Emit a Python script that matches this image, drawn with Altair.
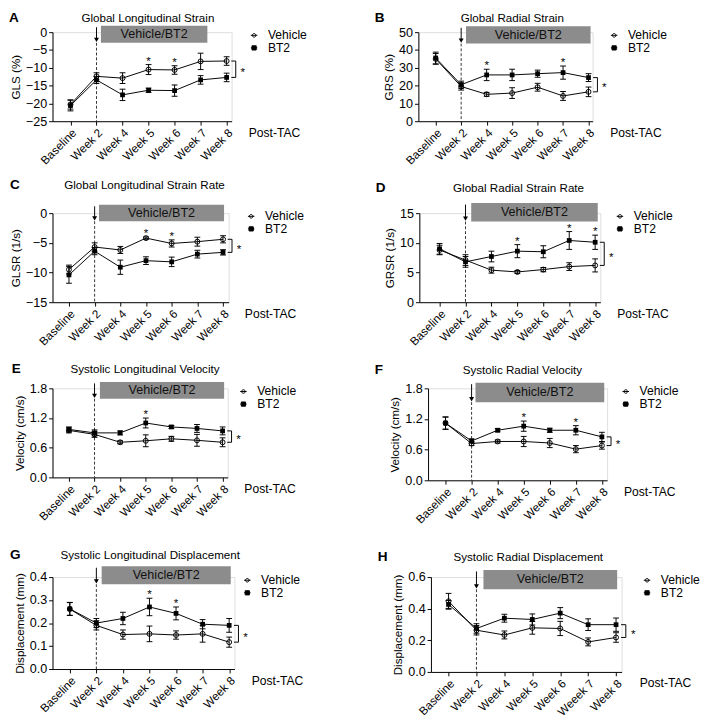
import altair as alt
import pandas as pd

FONT = "Liberation Sans"

weeks = ["Baseline", "Week 2", "Week 4", "Week 5", "Week 6", "Week 7", "Week 8"]
weeks_h = ["Baseline", "Week 2", "Week 4", "Week 5", "Week 6", "Weeek 7", "Week 8"]
series = ["Vehicle", "BT2"]

# A  Global Longitudinal Strain
gls_vehicle = [-20.3, -12.4, -12.9, -10.5, -10.6, -8.2, -8.1]
gls_vehicle_sem = [1.3, 1.0, 1.5, 1.4, 1.2, 2.3, 1.2]
gls_bt2 = [-20.6, -13.4, -17.6, -16.3, -16.4, -13.4, -12.7]
gls_bt2_sem = [1.5, 1.0, 1.6, 0.6, 1.6, 1.2, 1.2]
gls_stars = [3, 4]

# B  Global Radial Strain
grs_vehicle = [35.0, 19.5, 15.1, 15.8, 19.1, 14.2, 16.5]
grs_vehicle_sem = [3.0, 2.0, 1.1, 3.0, 2.2, 2.5, 2.7]
grs_bt2 = [35.5, 20.5, 26.0, 26.0, 26.7, 27.3, 24.5]
grs_bt2_sem = [3.3, 2.0, 3.2, 3.2, 2.0, 3.7, 2.2]
grs_stars = [2, 5]

# C  Global Longitudinal Strain Rate
glsr_vehicle = [-9.5, -5.7, -6.2, -4.2, -5.1, -4.8, -4.4]
glsr_vehicle_sem = [0.75, 0.7, 0.6, 0.2, 0.6, 0.75, 0.6]
glsr_bt2 = [-10.4, -6.4, -9.1, -8.0, -8.2, -6.9, -6.6]
glsr_bt2_sem = [1.4, 0.6, 1.2, 0.65, 0.8, 0.65, 0.45]
glsr_stars = [3, 4]

# D  Global Radial Strain Rate
grsr_vehicle = [8.8, 7.1, 5.4, 5.1, 5.5, 6.0, 6.2]
grsr_vehicle_sem = [0.8, 0.9, 0.5, 0.25, 0.35, 0.65, 1.1]
grsr_bt2 = [9.0, 6.8, 7.7, 8.6, 8.5, 10.4, 10.1]
grsr_bt2_sem = [0.9, 0.9, 0.9, 1.1, 1.0, 1.5, 1.2]
grsr_stars = [3, 5, 6]

# E  Systolic Longitudinal Velocity
slv_vehicle = [0.95, 0.87, 0.71, 0.74, 0.78, 0.75, 0.71]
slv_vehicle_sem = [0.05, 0.06, 0.03, 0.12, 0.05, 0.12, 0.09]
slv_bt2 = [0.97, 0.90, 0.90, 1.10, 1.02, 0.99, 0.94]
slv_bt2_sem = [0.05, 0.06, 0.04, 0.10, 0.03, 0.08, 0.08]
slv_stars = [3]

# F  Systolic Radial Velocity
srv_vehicle = [1.12, 0.72, 0.76, 0.76, 0.73, 0.61, 0.68]
srv_vehicle_sem = [0.12, 0.04, 0.03, 0.10, 0.09, 0.07, 0.07]
srv_bt2 = [1.12, 0.77, 0.98, 1.06, 0.98, 0.98, 0.85]
srv_bt2_sem = [0.12, 0.04, 0.03, 0.10, 0.04, 0.09, 0.09]
srv_stars = [3, 5]

# G  Systolic Longitudinal Displacement
sld_vehicle = [0.261, 0.19, 0.15, 0.153, 0.148, 0.153, 0.117]
sld_vehicle_sem = [0.028, 0.02, 0.02, 0.034, 0.018, 0.036, 0.022]
sld_bt2 = [0.262, 0.20, 0.22, 0.27, 0.242, 0.195, 0.19]
sld_bt2_sem = [0.028, 0.02, 0.027, 0.038, 0.028, 0.02, 0.03]
sld_stars = [3, 4]

# H  Systolic Radial Displacement
srd_vehicle = [0.447, 0.264, 0.234, 0.279, 0.275, 0.19, 0.218]
srd_vehicle_sem = [0.05, 0.03, 0.025, 0.04, 0.045, 0.025, 0.03]
srd_bt2 = [0.427, 0.275, 0.34, 0.332, 0.372, 0.299, 0.299]
srd_bt2_sem = [0.025, 0.03, 0.025, 0.035, 0.035, 0.037, 0.042]
srd_stars = []

# legend symbols: marker with a line through it
LEG_CIRCLE = "M-1,0L1,0M0.55,0A0.55,0.55,0,1,1,-0.55,0A0.55,0.55,0,1,1,0.55,0Z"
LEG_SQUARE = "M-1,0L1,0M-0.65,-0.65L0.65,-0.65L0.65,0.65L-0.65,0.65Z"

panels = {
    "A": dict(title="Global Longitudinal Strain", ylabel="GLS (%)", ylim=(-25, 0), yticks=[-25, -20, -15, -10, -5, 0], fmt="d",
              veh=gls_vehicle, veh_sem=gls_vehicle_sem, bt2=gls_bt2, bt2_sem=gls_bt2_sem, stars=gls_stars, labels=weeks,
              w=185, h=92, xlim=(-0.69, 6.19), box=(1.17, 5.26, -3.0, 1.8), letter=(-45, -15), title_x=6, legx=17),
    "B": dict(title="Global Radial Strain", ylabel="GRS (%)", ylim=(0, 50), yticks=[0, 10, 20, 30, 40, 50], fmt="d",
              veh=grs_vehicle, veh_sem=grs_vehicle_sem, bt2=grs_bt2, bt2_sem=grs_bt2_sem, stars=grs_stars, labels=weeks,
              w=180, h=92, xlim=(-0.68, 6.16), box=(1.19, 6.08, 43.6, 53.3), letter=(-45, -15), title_x=7, legx=16),
    "C": dict(title="Global Longitudinal Strain Rate", ylabel="GLSR (1/s)", ylim=(-15, 0), yticks=[-15, -10, -5, 0], fmt="d",
              veh=glsr_vehicle, veh_sem=glsr_vehicle_sem, bt2=glsr_bt2, bt2_sem=glsr_bt2_sem, stars=glsr_stars, labels=weeks,
              w=182, h=92, xlim=(-0.64, 6.22), box=(1.17, 6.04, -1.35, 1.4), letter=(-44, -29), title_x=4, legx=17),
    "D": dict(title="Global Radial Strain Rate", ylabel="GRSR (1/s)", ylim=(0, 15), yticks=[0, 5, 10, 15], fmt="d",
              veh=grsr_vehicle, veh_sem=grsr_vehicle_sem, bt2=grsr_bt2, bt2_sem=grsr_bt2_sem, stars=grsr_stars, labels=weeks,
              w=187, h=92, xlim=(-0.78, 6.2), box=(1.22, 6.1, 13.6, 16.7), letter=(-45, -26), title_x=9, legx=14),
    "E": dict(title="Systolic Longitudinal Velocity", ylabel="Velocity (cm/s)", ylim=(0, 1.8), yticks=[0, 0.6, 1.2, 1.8], fmt=".1f",
              veh=slv_vehicle, veh_sem=slv_vehicle_sem, bt2=slv_bt2, bt2_sem=slv_bt2_sem, stars=slv_stars, labels=weeks,
              w=181, h=92, xlim=(-0.64, 6.2), box=(1.21, 6.06, 1.59, 1.93), letter=(-42, -20), title_x=5, legx=10),
    "F": dict(title="Systolic Radial Velocity", ylabel="Velocity (cm/s)", ylim=(0, 1.8), yticks=[0, 0.6, 1.2, 1.8], fmt=".1f",
              veh=srv_vehicle, veh_sem=srv_vehicle_sem, bt2=srv_bt2, bt2_sem=srv_bt2_sem, stars=srv_stars, labels=weeks,
              w=185, h=95, xlim=(-0.67, 6.2), box=(1.15, 6.09, 1.53, 1.91), letter=(-55, -19), title_x=5, legx=13),
    "G": dict(title="Systolic Longitudinal Displacement", ylabel="Displacement (mm)", ylim=(0, 0.4), yticks=[0, 0.1, 0.2, 0.3, 0.4], fmt=".1f",
              veh=sld_vehicle, veh_sem=sld_vehicle_sem, bt2=sld_bt2, bt2_sem=sld_bt2_sem, stars=sld_stars, labels=weeks,
              w=188, h=95, xlim=(-0.65, 6.2), box=(1.2, 6.06, 0.369, 0.447), letter=(-44, -23), title_x=7, legx=7),
    "H": dict(title="Systolic Radial Displacement", ylabel="Displacement (mm)", ylim=(0, 0.6), yticks=[0, 0.2, 0.4, 0.6], fmt=".1f",
              veh=srd_vehicle, veh_sem=srd_vehicle_sem, bt2=srd_bt2, bt2_sem=srd_bt2_sem, stars=srd_stars, labels=weeks_h,
              w=197, h=98, xlim=(-0.63, 6.2), box=(1.25, 6.04, 0.523, 0.645), letter=(-55, -21), title_x=2, legx=20),
}


def make_panel(key):
    p = panels[key]
    W, H = p["w"], p["h"]
    lo, hi = p["ylim"]
    rng = hi - lo
    px = rng / H  # data units per pixel
    labels = p["labels"]
    xs = alt.Scale(domain=list(p["xlim"]), nice=False, zero=False)
    ys = alt.Scale(domain=[lo, hi], nice=False, zero=False)

    label_js = "[" + ",".join("'" + l + "'" for l in labels) + "][datum.value]"
    xaxis = alt.Axis(values=list(range(len(labels))), labelExpr=label_js, title=None, grid=False,
                     labelAngle=315, labelFontSize=12, tickSize=4, labelPadding=2, labelOverlap=False)
    yaxis = alt.Axis(values=p["yticks"], format=p["fmt"], title=p["ylabel"], grid=False, labelOverlap=False,
                     labelFontSize=13, titleFontSize=12, tickSize=4, labelPadding=2, titlePadding=3)

    def X(f):
        return alt.X(f, type="quantitative", scale=xs, axis=xaxis)

    def Y(f):
        return alt.Y(f, type="quantitative", scale=ys, axis=yaxis)

    rows = []
    for s, m, e in ((series[0], p["veh"], p["veh_sem"]), (series[1], p["bt2"], p["bt2_sem"])):
        for i, (mv, ev) in enumerate(zip(m, e)):
            rows.append({"series": s, "idx": i, "week": labels[i], "mean": mv, "lo": mv - ev, "hi": mv + ev})
    df = pd.DataFrame(rows)

    bx0, bx1, by0, by1 = p["box"]
    xm, ym = (bx0 + bx1) / 2, (by0 + by1) / 2
    box_df = pd.DataFrame([{"x": bx0, "x2": bx1, "y": by0, "y2": by1, "xm": xm, "ym": ym, "label": "Vehicle/BT2"}])

    # legend source (drawn first, hidden beneath the treatment box)
    leg = alt.Legend(title=None, orient="none", legendX=W + p["legx"], legendY=-3, labelFontSize=12.5, labelFont=FONT,
                     symbolSize=45, symbolStrokeWidth=1, rowPadding=0, labelOffset=8,
                     padding=0, labelColor="black")
    leg_df = pd.DataFrame([{"series": s, "x": xm, "y": ym} for s in series])
    leg_src = alt.Chart(leg_df).mark_point(filled=True, size=30, strokeWidth=1, opacity=1).encode(
        x=X("x"), y=Y("y"),
        shape=alt.Shape("series:N", scale=alt.Scale(domain=series, range=[LEG_CIRCLE, LEG_SQUARE]), legend=leg),
        fill=alt.Fill("series:N", scale=alt.Scale(domain=series, range=["transparent", "black"]), legend=leg),
        stroke=alt.Stroke("series:N", scale=alt.Scale(domain=series, range=["black", "black"]), legend=leg),
    )

    box = alt.Chart(box_df).mark_rect(color="#8c8c8c").encode(x=X("x"), x2="x2", y=Y("y"), y2="y2")
    box_txt = alt.Chart(box_df).mark_text(fontSize=13, color="#111111").encode(x=X("xm"), y=Y("ym"), text="label:N")

    arr_df = pd.DataFrame([{"x": 1, "top": by1 - 1.5 * px, "bot": by0, "head": by0 + 3 * px, "low": lo}])
    dashed = alt.Chart(arr_df).mark_rule(color="#333333", strokeDash=[3, 2], strokeWidth=1).encode(
        x=X("x"), y=Y("bot"), y2="low")
    shaft = alt.Chart(arr_df).mark_rule(color="black", strokeWidth=1).encode(x=X("x"), y=Y("top"), y2="head")
    head = alt.Chart(arr_df).mark_point(shape="triangle-down", filled=True, size=26, color="black", opacity=1).encode(
        x=X("x"), y=Y("head"))

    err = alt.Chart(df).mark_rule(color="black", strokeWidth=1).encode(x=X("idx"), y=Y("lo"), y2="hi")
    cap_lo = alt.Chart(df).mark_tick(orient="horizontal", size=6, thickness=1, color="black", opacity=1).encode(
        x=X("idx"), y=Y("lo"))
    cap_hi = alt.Chart(df).mark_tick(orient="horizontal", size=6, thickness=1, color="black", opacity=1).encode(
        x=X("idx"), y=Y("hi"))
    lines = alt.Chart(df).mark_line(color="black", strokeWidth=1).encode(
        x=X("idx"), y=Y("mean"), detail="series:N")

    veh_pts = alt.Chart(df[df.series == series[0]]).mark_point(
        shape="circle", filled=False, size=26, stroke="black", strokeWidth=1, opacity=1).encode(
        x=X("idx"), y=Y("mean"))
    bt2_pts = alt.Chart(df[df.series == series[1]]).mark_point(
        shape="square", filled=True, size=24, color="black", opacity=1).encode(
        x=X("idx"), y=Y("mean"))

    layers = [leg_src, box, box_txt, dashed, shaft, head, err, cap_lo, cap_hi, lines, veh_pts, bt2_pts]

    if p["stars"]:
        star_rows = []
        for i in p["stars"]:
            top = max(df[df.idx == i]["hi"])
            star_rows.append({"x": i, "y": top + 0.075 * rng, "t": "*"})
        stars = alt.Chart(pd.DataFrame(star_rows)).mark_text(fontSize=12, dy=3, color="black").encode(
            x=X("x"), y=Y("y"), text="t:N")
        layers.append(stars)

    ytop = max(p["veh"][-1], p["bt2"][-1])
    ybot = min(p["veh"][-1], p["bt2"][-1])
    br_df = pd.DataFrame([
        {"x": 6.35, "x2": 6.35, "y": ybot, "y2": ytop},
        {"x": 6.18, "x2": 6.35, "y": ytop, "y2": ytop},
        {"x": 6.18, "x2": 6.35, "y": ybot, "y2": ybot},
    ])
    bracket = alt.Chart(br_df).mark_rule(color="black", strokeWidth=1).encode(x=X("x"), x2="x2", y=Y("y"), y2="y2")
    br_star = alt.Chart(pd.DataFrame([{"x": 6.62, "y": (ytop + ybot) / 2, "t": "*"}])).mark_text(
        fontSize=12, dy=3, color="black").encode(x=X("x"), y=Y("y"), text="t:N")
    post = alt.Chart(pd.DataFrame([{"x": 6.85, "y": lo - 12 * px, "t": "Post-TAC"}])).mark_text(
        fontSize=12.5, align="left", baseline="middle", color="black").encode(x=X("x"), y=Y("y"), text="t:N")
    layers += [bracket, br_star, post]

    lx, ly = p["letter"]
    letter = alt.Chart(pd.DataFrame([{"t": key}])).mark_text(
        fontSize=14, fontWeight="bold", align="left", baseline="middle", color="black").encode(
        x=alt.value(lx), y=alt.value(ly), text="t:N")
    ttl = alt.Chart(pd.DataFrame([{"t": p["title"]}])).mark_text(
        fontSize=12, align="center", baseline="middle", color="black").encode(
        x=alt.value(W / 2 + p["title_x"]), y=alt.value(ly), text="t:N")
    layers += [letter, ttl]

    return alt.layer(*layers).properties(width=W, height=H)


def indep(c):
    return c.resolve_scale(shape="independent", fill="independent", stroke="independent").resolve_legend(
        shape="independent", fill="independent", stroke="independent")


def row(a, b, sp):
    # flush bounds: spacing is the gap between the two plot areas
    return indep(alt.hconcat(make_panel(a), make_panel(b), spacing=sp, bounds="flush"))


r1 = row("A", "B", 193)
r2 = row("C", "D", 197)
r3 = row("E", "F", 207)
r4 = row("G", "H", 203)

inner3 = indep(alt.vconcat(r3, r4, spacing=22))
inner2 = indep(alt.vconcat(r2, inner3, spacing=14))
chart = indep(alt.vconcat(r1, inner2, spacing=11))

chart = chart.properties(padding={"top": -10, "left": 0, "right": 0, "bottom": 0}).configure_view(
    strokeWidth=0, stroke="transparent").configure(font=FONT).configure_axis(
    domainColor="black", tickColor="black", labelColor="black", titleColor="black",
    titleFontWeight="normal", labelFont=FONT, titleFont=FONT)

chart.save("out.html", embed_options={"renderer": "svg", "actions": False})
